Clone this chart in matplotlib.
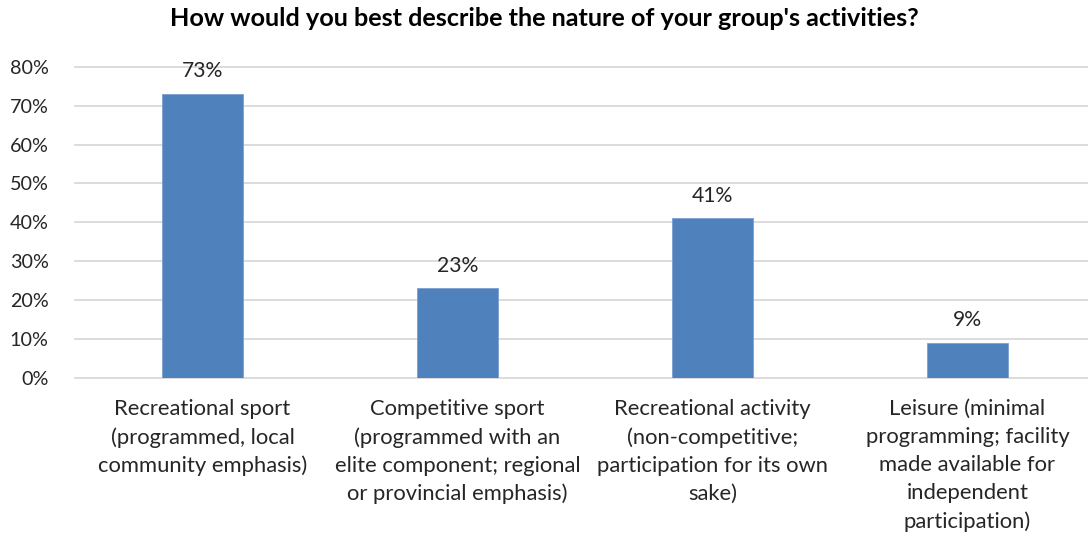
import matplotlib.pyplot as plt
import numpy as np
from matplotlib.ticker import PercentFormatter

plt.rcParams['font.family'] = ['Lato', 'DejaVu Sans']

categories = [
    "Recreational sport\n(programmed, local\ncommunity emphasis)",
    "Competitive sport\n(programmed with an\nelite component; regional\nor provincial emphasis)",
    "Recreational activity\n(non-competitive;\nparticipation for its own\nsake)",
    "Leisure (minimal\nprogramming; facility\nmade available for\nindependent\nparticipation)",
]
shares = [0.73, 0.23, 0.41, 0.09]
value_labels = ["73%", "23%", "41%", "9%"]
y_ticks = [0, 0.1, 0.2, 0.3, 0.4, 0.5, 0.6, 0.7, 0.8]

fig = plt.figure(figsize=(10.88, 5.39), dpi=100)
# right edge runs slightly past the figure so the grid reaches the border
ax = fig.add_axes([0.0689, 0.299, 0.9375, 0.577])

x = np.arange(len(categories))
bars = ax.bar(x, shares, width=0.315, color='#4F81BD', edgecolor='#7A9FD0',
              linewidth=0.6, zorder=3)

for rect, lab in zip(bars, value_labels):
    ax.annotate(lab, (rect.get_x() + rect.get_width() / 2, rect.get_height()),
                xytext=(0, 16.5), textcoords='offset points',
                ha='center', va='center', fontsize=15.2, color='#262626')

ax.set_xlim(-0.5, len(categories) - 0.5)
ax.set_ylim(0, 0.8)
ax.set_yticks(y_ticks)
ax.yaxis.set_major_formatter(PercentFormatter(1.0, decimals=0))
ax.grid(axis='y', color='#D9D9D9', linewidth=1.3, zorder=0, clip_on=False)
for s in ax.spines.values():
    s.set_visible(False)
ax.tick_params(axis='y', length=0, labelsize=14.2, colors='#262626', pad=19)
ax.tick_params(axis='x', length=0, labelsize=15.8, colors='#262626', pad=15)
ax.set_xticks(x)
ax.set_xticklabels(categories, linespacing=1.5)

fig.text(0.5, 0.965, "How would you best describe the nature of your group's activities?",
         ha='center', va='center', fontsize=18.2, fontweight='bold', color='#000000')

fig.savefig('out.png', dpi=100)
